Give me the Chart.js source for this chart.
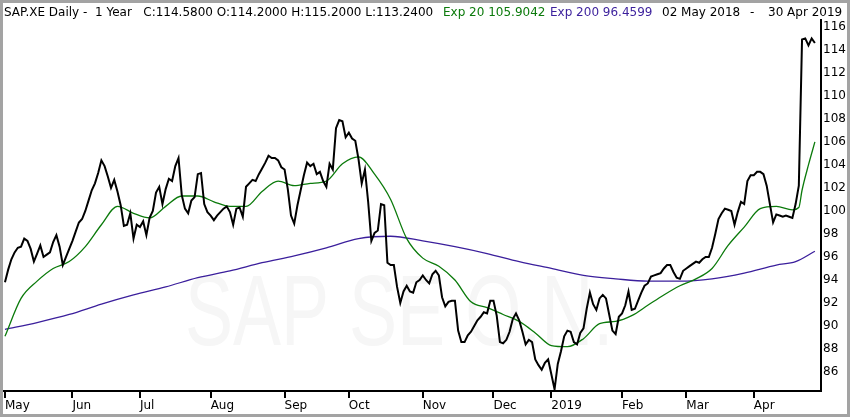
<!DOCTYPE html>
<html>
<head>
<meta charset="utf-8">
<title>SAP.XE Daily - 1 Year</title>
<script src="https://cdn.jsdelivr.net/npm/chart.js@4.4.1/dist/chart.umd.min.js"></script>
<style>
  html, body { margin: 0; padding: 0; background: #fff; }
  canvas { display: block; }
</style>
</head>
<body>
<canvas id="chart" width="850" height="417"></canvas>
<script>
// Daily closes, 02 May 2018 - 30 Apr 2019 (one value per trading day)
const price = [
  93.8, 94.9, 95.8, 96.4, 96.8, 96.9, 97.6, 97.4, 96.7, 95.6,
  96.3, 97.0, 96.0, 96.2, 96.4, 97.3, 97.9, 96.9, 95.3, 96.0,
  96.7, 97.4, 98.2, 99.0, 99.3, 100.0, 100.9, 101.8, 102.4, 103.3,
  104.4, 103.9, 103.0, 102.0, 102.7, 101.7, 100.5, 98.7, 98.8, 99.8,
  97.6, 98.8, 98.6, 99.1, 97.9, 99.4, 100.0, 101.6, 102.1, 100.6,
  101.9, 102.8, 102.6, 103.9, 104.6, 101.4, 100.2, 99.8, 100.9, 101.2,
  103.2, 103.3, 100.6, 99.9, 99.6, 99.2, 99.6, 99.9, 100.2, 100.4,
  99.9, 98.8, 100.2, 100.3, 99.5, 102.1, 102.4, 102.7, 102.6, 103.2,
  103.7, 104.2, 104.8, 104.6, 104.6, 104.4, 103.8, 103.6, 101.9, 99.6,
  98.9, 100.5, 101.8, 103.1, 104.2, 103.9, 104.1, 103.2, 103.4, 102.6,
  102.1, 104.1, 103.6, 107.2, 107.9, 107.8, 106.4, 106.8, 106.3, 106.1,
  104.5, 102.4, 103.6, 100.8, 97.4, 98.1, 98.3, 100.6, 100.5, 95.5,
  95.3, 95.3, 93.4, 92.0, 93.0, 93.5, 93.0, 92.9, 93.8, 94.0,
  94.4, 94.0, 93.7, 94.5, 94.8, 94.4, 92.5, 91.7, 92.1, 92.2,
  92.2, 89.6, 88.6, 88.6, 89.2, 89.5, 90.0, 90.5, 90.8, 91.2,
  91.1, 92.2, 92.2, 90.9, 88.6, 88.5, 88.8, 89.5, 90.6, 91.1,
  90.5, 89.5, 88.4, 88.8, 88.6, 87.1, 86.6, 86.2, 86.8, 87.1,
  85.8, 84.5, 86.7, 87.8, 89.1, 89.6, 89.5, 88.6, 88.4, 89.4,
  89.8, 91.5, 92.9, 91.9, 91.4, 92.4, 92.7, 92.4, 91.0, 89.6,
  89.3, 90.8, 91.1, 91.8, 93.0, 91.4, 91.5, 92.2, 92.9, 93.5,
  93.7, 94.3, 94.4, 94.5, 94.6, 95.0, 95.3, 95.3, 94.7, 94.2,
  94.1, 94.8, 95.0, 95.2, 95.4, 95.6, 95.5, 95.8, 96.0, 96.0,
  96.8, 98.0, 99.3, 99.8, 100.2, 100.1, 100.0, 98.8, 99.9, 100.8,
  100.6, 102.6, 103.1, 103.1, 103.4, 103.4, 103.2, 102.2, 100.6, 99.0,
  99.7, 99.6, 99.5, 99.6, 99.5, 99.4, 100.6, 102.2, 114.9, 115.0,
  114.4, 115.0, 114.6
];

// Exp 20 (green) at these trading-day positions
const ema20Idx = [0, 5, 10, 15, 20, 25, 30, 35, 40, 45, 50, 55, 60, 65, 70, 75, 80, 85, 90, 95,
  100, 105, 110, 115, 120, 125, 130, 135, 140, 145, 150, 155, 160, 165, 170, 175, 180, 185, 190, 195,
  200, 205, 210, 215, 220, 225, 230, 235, 240, 245, 247, 248, 250, 252];
const ema20 = [89.1, 92.4, 93.9, 95.0, 95.6, 96.9, 98.8, 100.4, 99.8, 99.4, 100.4, 101.3, 101.3, 100.8, 100.4, 100.4, 101.7, 102.6, 102.2, 102.4,
  102.6, 104.1, 104.7, 103.2, 101.0, 97.6, 95.9, 95.2, 94.0, 92.1, 91.6, 91.0, 90.4, 89.4, 88.3, 88.2, 88.9, 90.2, 90.4, 90.9,
  91.8, 92.7, 93.5, 94.1, 95.0, 97.0, 98.6, 100.2, 100.4, 100.1, 100.3, 101.8, 104.0, 106.0];

// Exp 200 (purple)
const ema200Idx = [0, 10, 20, 30, 40, 50, 60, 70, 80, 90, 100, 110, 120, 130, 140, 150, 160, 170, 180, 190,
  200, 210, 220, 230, 240, 246, 252];
const ema200 = [89.7, 90.3, 91.0, 91.9, 92.7, 93.4, 94.2, 94.8, 95.5, 96.1, 96.8, 97.6, 97.8, 97.4, 96.9, 96.3, 95.6, 95.0, 94.4, 94.1,
  93.9, 93.9, 94.1, 94.6, 95.3, 95.6, 96.5];

// x axis: first trading day of each month
const monthIdx = [0, 21, 42, 64, 87, 107, 130, 152, 170, 192, 212, 233];
const monthLabels = ['May', 'Jun', 'Jul', 'Aug', 'Sep', 'Oct', 'Nov', 'Dec', '2019', 'Feb', 'Mar', 'Apr'];
const yTicks = [86, 88, 90, 92, 94, 96, 98, 100, 102, 104, 106, 108, 110, 112, 114, 116];

const FONT = '"DejaVu Sans", sans-serif';
const GREEN = '#0b7a0b';
const PURPLE = '#3b1f9c';

// Header line drawn above the plot
const headerPlugin = {
  id: 'header',
  afterDraw(chart) {
    const ctx = chart.ctx;
    const parts = [
      { x: 4, text: 'SAP.XE Daily -  1 Year   C:114.5800 O:114.2000 H:115.2000 L:113.2400', color: '#000' },
      { x: 443, text: 'Exp 20 105.9042', color: GREEN },
      { x: 550, text: 'Exp 200 96.4599', color: PURPLE },
      { x: 662, text: '02 May 2018', color: '#000' },
      { x: 750, text: '-', color: '#000' },
      { x: 768, text: '30 Apr 2019', color: '#000' }
    ];
    ctx.save();
    ctx.font = '12px ' + FONT;
    ctx.textBaseline = 'middle';
    ctx.textAlign = 'left';
    parts.forEach(p => {
      ctx.fillStyle = p.color;
      ctx.fillText(p.text, p.x, 12.5);
    });
    // window frame
    ctx.strokeStyle = '#a3a3a3';
    ctx.lineWidth = 3;
    ctx.strokeRect(1.5, 1.5, chart.width - 3, chart.height - 3);
    ctx.restore();
  }
};

// Faint watermark behind the lines
const watermarkPlugin = {
  id: 'watermark',
  beforeDatasetsDraw(chart) {
    const ctx = chart.ctx;
    ctx.save();
    ctx.fillStyle = '#f6f6f6';
    ctx.font = '72px "Liberation Sans", sans-serif';
    ctx.textBaseline = 'alphabetic';
    ctx.translate(185, 345);
    ctx.scale(1, 1.4);
    ctx.fillText('SAP SE O.N.', 0, 0);
    ctx.restore();
  }
};

new Chart(document.getElementById('chart'), {
  type: 'line',
  data: {
    datasets: [
      {
        label: 'SAP.XE',
        data: price.map((v, i) => ({ x: i, y: v })),
        borderColor: '#000',
        borderWidth: 2,
        pointRadius: 0,
        tension: 0
      },
      {
        label: 'Exp 20',
        data: ema20Idx.map((x, k) => ({ x: x, y: ema20[k] })),
        borderColor: GREEN,
        borderWidth: 1.3,
        pointRadius: 0,
        cubicInterpolationMode: 'monotone'
      },
      {
        label: 'Exp 200',
        data: ema200Idx.map((x, k) => ({ x: x, y: ema200[k] })),
        borderColor: PURPLE,
        borderWidth: 1.3,
        pointRadius: 0,
        cubicInterpolationMode: 'monotone'
      }
    ]
  },
  options: {
    responsive: false,
    animation: false,
    layout: { padding: { left: 4, top: 20, right: 0, bottom: 0 } },
    plugins: {
      legend: { display: false },
      tooltip: { enabled: false },
      title: { display: false }
    },
    scales: {
      x: {
        type: 'linear',
        min: -0.3,
        max: 253.9,
        afterBuildTicks: s => { s.ticks = monthIdx.map(v => ({ value: v })); },
        afterFit: s => { s.height = 26; },
        grid: {
          drawOnChartArea: false,
          drawTicks: true,
          tickLength: 7,
          color: '#000',
          lineWidth: 2
        },
        border: { display: true, color: '#000', width: 2 },
        ticks: {
          autoSkip: false,
          maxRotation: 0,
          align: 'start',
          padding: 1,
          color: '#000',
          font: { family: FONT, size: 12 },
          callback: v => monthLabels[monthIdx.indexOf(v)]
        }
      },
      y: {
        type: 'linear',
        position: 'right',
        min: 84.35,
        max: 116.6,
        afterBuildTicks: s => { s.ticks = yTicks.map(v => ({ value: v })); },
        afterFit: s => { s.width = 29; },
        grid: { display: false, drawTicks: false },
        border: { display: true, color: '#000', width: 2 },
        ticks: {
          padding: 2,
          color: '#000',
          font: { family: FONT, size: 12 },
          callback: v => String(v)
        }
      }
    }
  },
  plugins: [watermarkPlugin, headerPlugin]
});
</script>
</body>
</html>
